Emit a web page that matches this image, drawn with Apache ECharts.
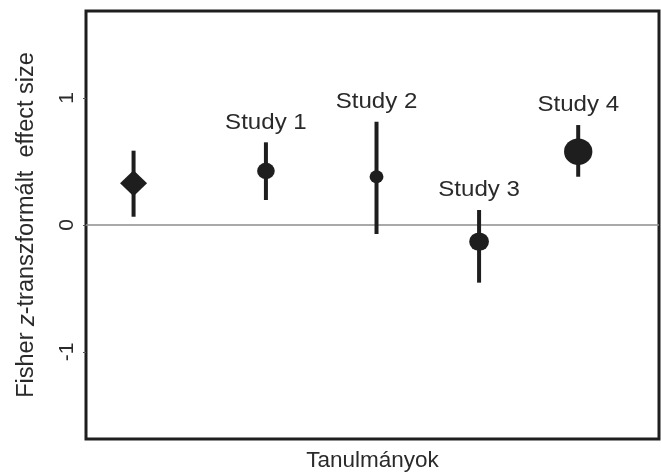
<!DOCTYPE html>
<html><head><meta charset="utf-8">
<script src="https://cdn.jsdelivr.net/npm/echarts@6/dist/echarts.min.js"></script>
<style>html,body{margin:0;padding:0;background:#fff}#c{width:661px;height:474px}</style>
</head><body><div id="c"></div>
<script>
// Forest plot data (Fisher z effect sizes)
const studyLabels = ['', 'Study 1', 'Study 2', 'Study 3', 'Study 4'];
const xPositions = [8.3, 31.4, 50.7, 68.6, 85.9];
const estimates = [0.328, 0.425, 0.380, -0.131, 0.577];
const lowerCI = [0.065, 0.197, -0.071, -0.454, 0.380];
const upperCI = [0.585, 0.651, 0.813, 0.118, 0.787];
const weights = [null, 18.3, 11.4, 23.0, 47.3];
const yTicks = [-1, 0, 1];
const refLine = [[0, 0], [100, 0]];

const FONT = 'Liberation Sans, Arial, Helvetica, sans-serif';
const INK = '#1e1e1e';
const TXT = '#2a2a2a';

const ciData = xPositions.map((x, i) => [x, lowerCI[i], upperCI[i], i]);
const pointData = xPositions.map((x, i) => {
  const pooled = weights[i] == null;
  const s = pooled ? 25 : 3.85 * Math.sqrt(weights[i]);
  return {
    value: [x, estimates[i]],
    symbol: pooled ? 'diamond' : 'circle',
    symbolSize: pooled ? [27, 26] : [s * 1.07, s]
  };
});

const chart = echarts.init(document.getElementById('c'), null, {renderer: 'canvas'});
chart.setOption({
  animation: false,
  backgroundColor: '#fff',
  textStyle: {fontFamily: FONT},
  grid: {left: 86, right: 2, top: 11, bottom: 35, show: true, borderColor: INK, borderWidth: 3,
    backgroundColor: 'transparent', containLabel: false, outerBoundsMode: 'none'},
  xAxis: {
    type: 'value', min: 0, max: 100,
    axisLine: {show: false}, axisTick: {show: false}, axisLabel: {show: false}, splitLine: {show: false},
    name: 'Tanulmányok', nameLocation: 'middle', nameGap: 10,
    nameTextStyle: {fontFamily: FONT, fontSize: 22.5, color: TXT, verticalAlign: 'top'}
  },
  yAxis: {
    type: 'value', min: -1.685, max: 1.685,
    axisLine: {show: false},
    axisTick: {show: true, length: 3, customValues: yTicks, lineStyle: {color: '#555', width: 1}},
    axisLabel: {show: true, rotate: 90, margin: 8, customValues: yTicks, fontFamily: FONT, fontSize: 21, color: TXT},
    splitLine: {show: false},
    name: 'Fisher {i|z}-transzformált  effect size', nameLocation: 'middle', nameGap: 47, nameRotate: 90,
    nameTextStyle: {fontFamily: FONT, fontSize: 23.5, color: TXT,
      rich: {i: {fontFamily: FONT, fontSize: 23.5, fontStyle: 'italic', color: TXT}}}
  },
  series: [
    {
      type: 'line', data: refLine, symbol: 'none', silent: true, z: 1,
      lineStyle: {color: '#8c8c8c', width: 1.5}
    },
    {
      type: 'custom', z: 2, data: ciData, encode: {x: 0, y: [1, 2]},
      renderItem: function (params, api) {
        const x = api.value(0);
        const lo = api.coord([x, api.value(1)]);
        const hi = api.coord([x, api.value(2)]);
        const idx = api.value(3);
        const children = [{
          type: 'line',
          shape: {x1: lo[0], y1: lo[1], x2: hi[0], y2: hi[1]},
          style: {stroke: INK, lineWidth: 4, lineCap: 'butt'}
        }];
        if (studyLabels[idx]) {
          children.push({
            type: 'text',
            x: hi[0], y: hi[1] - 20, scaleX: 1.07,
            style: {x: 0, y: 0, text: studyLabels[idx], fill: TXT,
              font: '22.5px ' + FONT, textAlign: 'center', textVerticalAlign: 'middle'}
          });
        }
        return {type: 'group', children: children};
      }
    },
    {
      type: 'scatter', z: 3, data: pointData,
      itemStyle: {color: INK, opacity: 1}
    }
  ]
});
</script></body></html>
